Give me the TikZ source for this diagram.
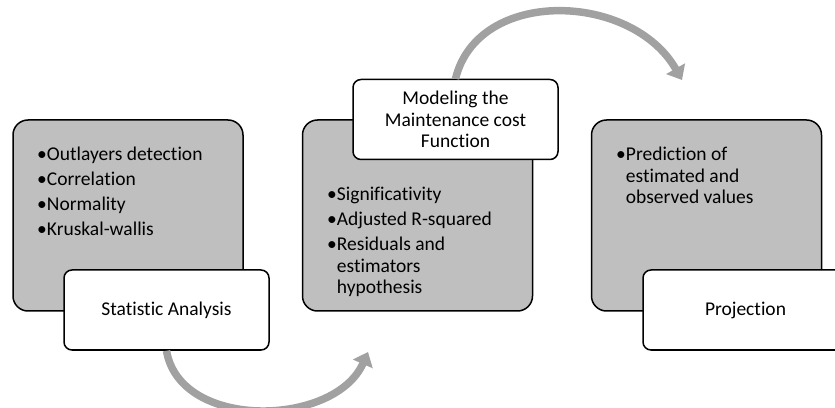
\documentclass[tikz,border=0pt]{standalone}
\usepackage{fontspec}
\setmainfont{Carlito}[Ligatures=NoCommon]
\usetikzlibrary{arrows.meta}

\begin{document}
\begin{tikzpicture}[x=1pt,y=1pt,>={Triangle[length=13pt,width=21pt]},font=\fontsize{19.5}{21.5}\selectfont,
  stage box/.style={draw=black,line width=1.5pt,fill=black!25,rounded corners=15pt,minimum width=230pt,minimum height=191pt,inner sep=0pt},
  title box/.style={draw=black,line width=1.5pt,fill=white,rounded corners=8pt,minimum width=205pt,minimum height=80pt,align=center,inner sep=0pt},
  item list/.style={anchor=north west,align=left,inner sep=0pt},
  flow/.style={->,draw=black!37,line width=7.5pt}]
  \clip (0,0) rectangle (835,407);

  \node[stage box] (stat) at (128,191.5) {};
  \node[item list] (statitems) at (37,260) {\textbullet Outlayers detection\\[3.5pt]\textbullet Correlation\\[3.5pt]\textbullet Normality\\[3.5pt]\textbullet Kruskal-wallis};
  \node[title box] (statlabel) at (166.5,97) {Statistic Analysis};

  \node[stage box] (model) at (417.5,191.5) {};
  \node[item list] (modelitems) at (327,220) {\textbullet Significativity\\[3.5pt]\textbullet Adjusted R-squared\\[3.5pt]\textbullet Residuals and\\\hphantom{\textbullet}estimators\\\hphantom{\textbullet}hypothesis};
  \node[title box] (modellabel) at (455.5,287.5) {Modeling the\\Maintenance cost\\Function};

  \node[stage box] (proj) at (706.5,191.5) {};
  \node[item list] (projitems) at (616,260) {\textbullet Prediction of\\\hphantom{\textbullet}estimated and\\\hphantom{\textbullet}observed values};
  \node[title box] (projlabel) at (745.5,97) {Projection};

  \coordinate (modelin) at (368,55);
  \coordinate (projin) at (682,327);

  \draw[flow] (statlabel.south) .. controls (180,-24) and (335,-20) .. (modelin);
  \draw[flow] (modellabel.north) .. controls (478,420) and (632,415) .. (projin);
\end{tikzpicture}
\end{document}
